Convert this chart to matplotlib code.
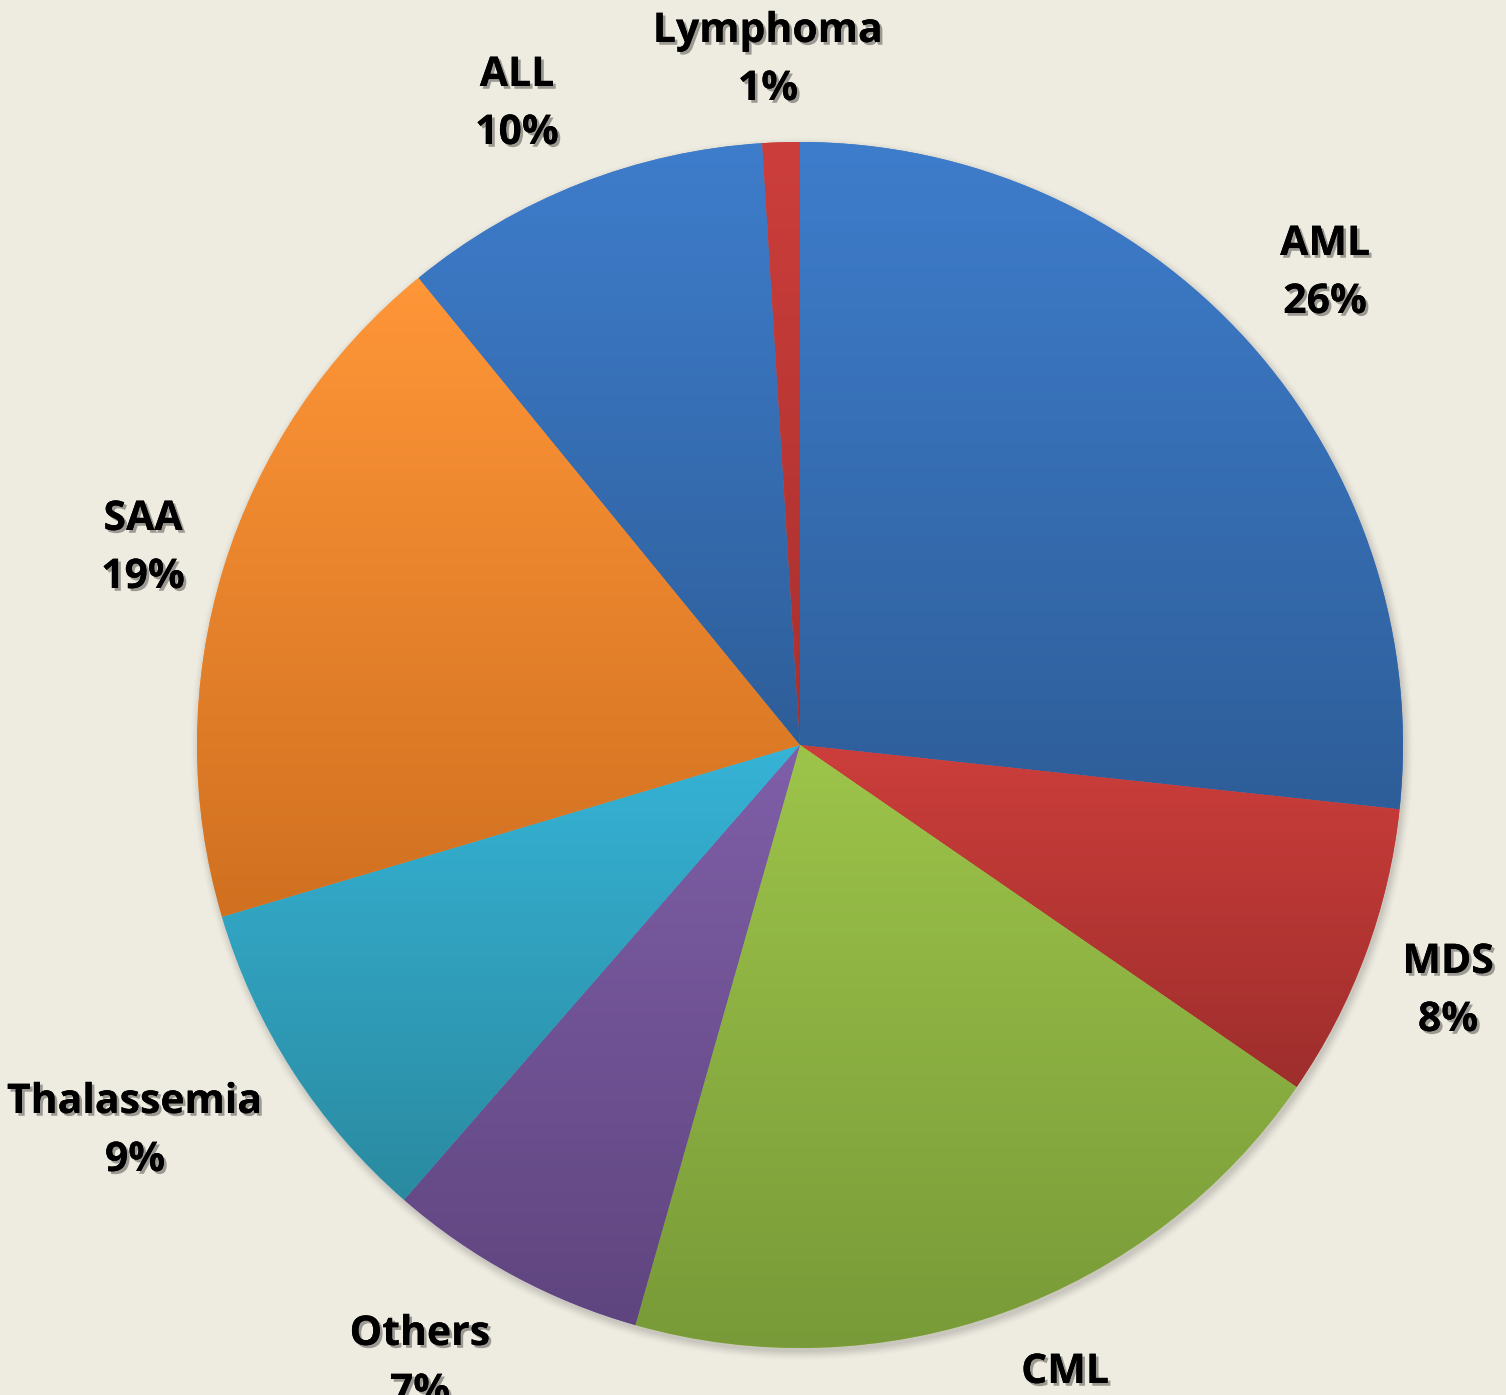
import matplotlib
matplotlib.use("Agg")
import matplotlib.pyplot as plt
import matplotlib.patheffects as pe
from matplotlib.patches import Circle
from matplotlib.colors import to_rgba
import numpy as np

# ---- data ----
categories = ["AML", "MDS", "CML", "Others", "Thalassemia", "SAA", "ALL", "Lymphoma"]
values = [26.7, 7.9, 19.8, 7.0, 9.0, 18.7, 9.9, 1.0]
pct_labels = ["26%", "8%", "20%", "7%", "9%", "19%", "10%", "1%"]

# ---- style ----
top_colors = ["#3E7DCC", "#CC3E3B", "#9DC44A", "#7F5FA8", "#36B3D6", "#FF9638", "#3E7DCC", "#CC3E3B"]
bottom_colors = ["#2E5E99", "#9E2E2C", "#789A38", "#5F457F", "#2A8AA0", "#D07020", "#2E5E99", "#A8302E"]
# label anchor (x centre, baseline of first line) in pixel coords, y measured from top
label_pos = [(1325, 255), (1448, 973), (1065, 1383), (420, 1345),
             (135, 1113), (143, 530), (517, 86), (768, 42)]
line_gap = 58
W, H = 1506, 1395
bg = "#EEEBE0"
cx, cy, R = 800, H - 745, 603

fig = plt.figure(figsize=(W / 100, H / 100), dpi=100, facecolor=bg)
ax = fig.add_axes([0, 0, 1, 1])
ax.set_facecolor(bg)
ax.set_xlim(0, W)
ax.set_ylim(0, H)
ax.set_aspect("equal")
ax.axis("off")

# soft shadow under pie
for i, a in enumerate(np.linspace(0.05, 0.012, 8)):
    ax.add_patch(Circle((cx + 2, cy - 4), R + i * 1.2, facecolor="#555555",
                        edgecolor="none", alpha=a, zorder=0))

wedges, _ = ax.pie(values, colors=top_colors, startangle=90, counterclock=False,
                   center=(cx, cy), radius=R, frame=True,
                   wedgeprops=dict(linewidth=0, zorder=1))
ax.set_xlim(0, W)
ax.set_ylim(0, H)
ax.axis("off")

for w, ct, cb in zip(wedges, top_colors, bottom_colors):
    ext = w.get_path().get_extents()
    n = 256
    t = np.linspace(0, 1, n)[:, None]
    c0 = np.array(to_rgba(ct))
    c1 = np.array(to_rgba(cb))
    grad = (c0 * (1 - t) + c1 * t)[:, None, :]
    im = ax.imshow(grad, extent=[ext.x0, ext.x1, ext.y0, ext.y1], origin="upper",
                   aspect="auto", interpolation="bilinear", zorder=2)
    im.set_clip_path(w)

ax.set_xlim(0, W)
ax.set_ylim(0, H)

shadow = [pe.withSimplePatchShadow(offset=(2, -2), shadow_rgbFace="#000000", alpha=0.35),
          pe.Normal()]
for cat, pl, (x, yb) in zip(categories, pct_labels, label_pos):
    for k, s in enumerate([cat, pl]):
        ax.text(x, H - (yb + k * line_gap), s, ha="center", va="baseline",
                fontsize=29.5, fontweight="bold", family=["Open Sans", "DejaVu Sans"],
                color="black", zorder=5, path_effects=shadow)

fig.savefig("out.png", dpi=100, facecolor=bg)
